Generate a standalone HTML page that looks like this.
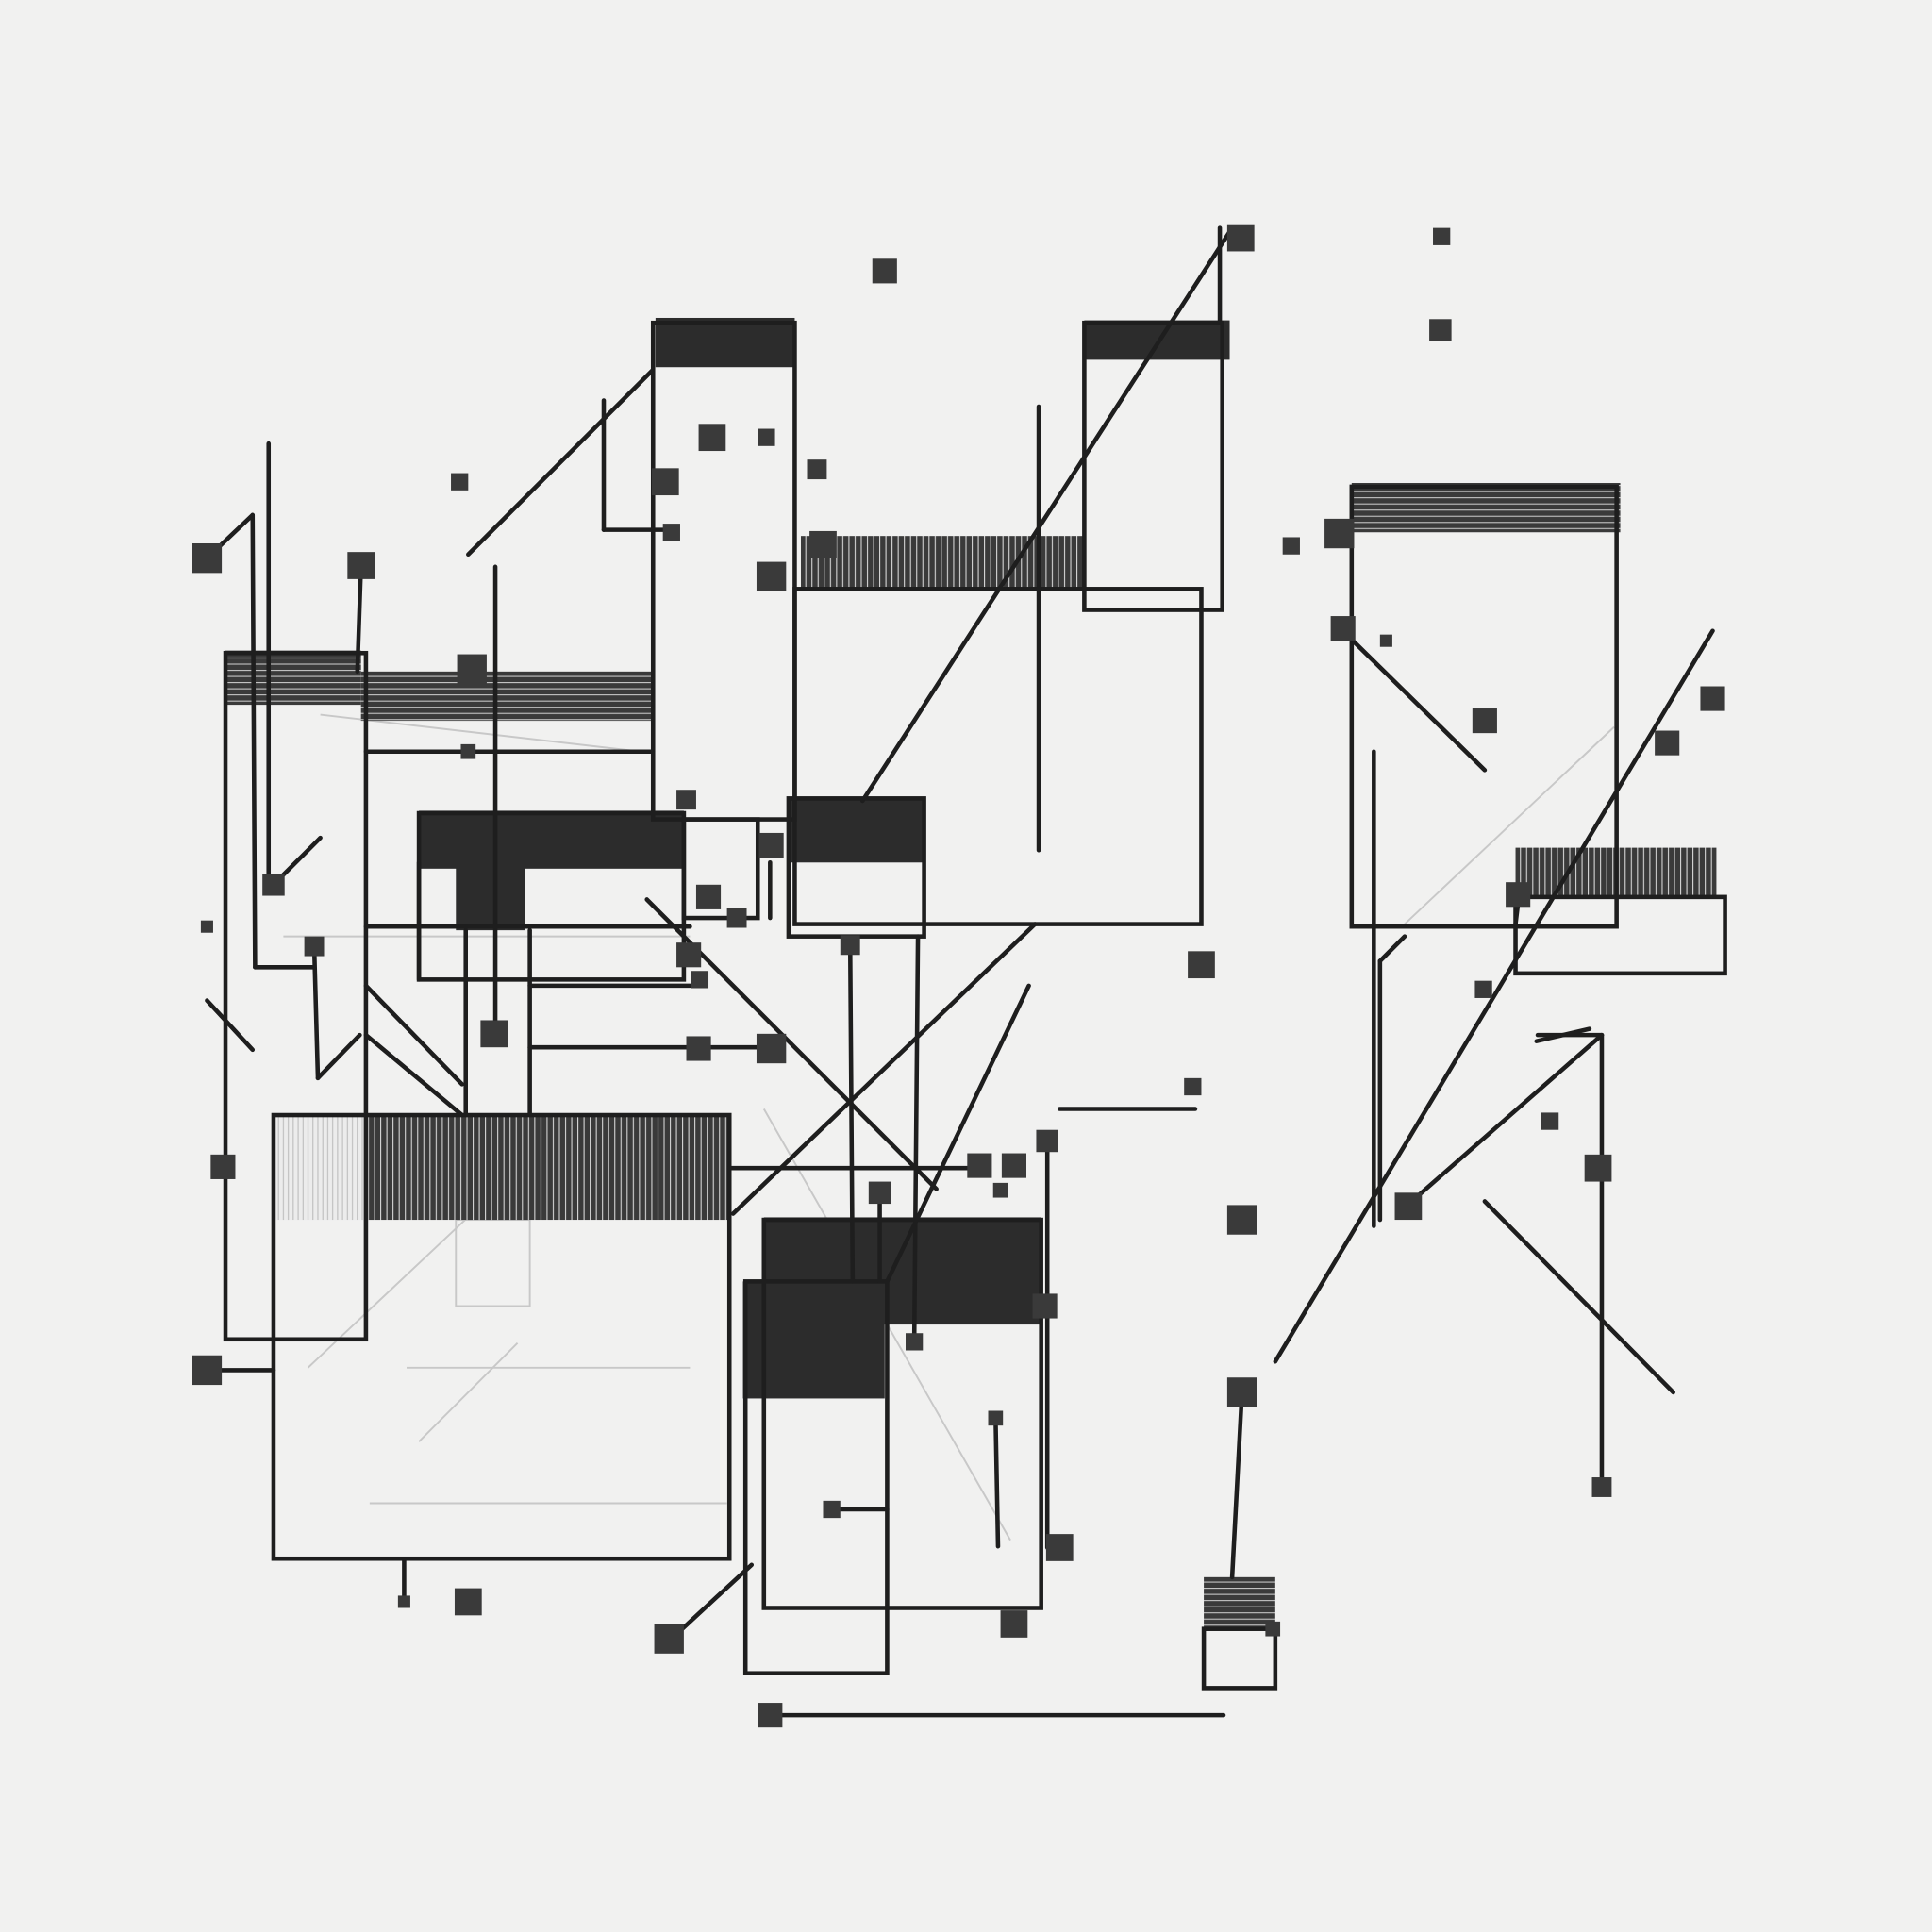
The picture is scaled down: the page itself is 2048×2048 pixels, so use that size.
<!DOCTYPE html>
<html><head><meta charset="utf-8"><style>
html,body{margin:0;padding:0;background:#f1f1f0;}
svg{display:block;}
</style></head><body>
<svg width="2048" height="2048" viewBox="0 0 1568 1568" xmlns="http://www.w3.org/2000/svg">
<defs>
<pattern id="vh" width="5" height="10" patternUnits="userSpaceOnUse"><rect width="5" height="10" fill="#3a3a3a"/><line x1="4" y1="0" x2="4" y2="10" stroke="#ddd" stroke-width="0.8"/></pattern>
<pattern id="hh" width="10" height="5" patternUnits="userSpaceOnUse"><rect width="10" height="5" fill="#3a3a3a"/><line x1="0" y1="4" x2="10" y2="4" stroke="#ccc" stroke-width="0.8"/></pattern>
<pattern id="lh" width="4" height="10" patternUnits="userSpaceOnUse"><rect width="4" height="10" fill="#ececec"/><line x1="2" y1="0" x2="2" y2="10" stroke="#bbb" stroke-width="0.8"/></pattern>
</defs>
<rect width="1568" height="1568" fill="#f1f1f0"/>
<!-- faint lines -->
<g stroke="#c8c8c8" stroke-width="1.5" fill="none">
<line x1="250" y1="1110" x2="420" y2="950"/><line x1="300" y1="1220" x2="590" y2="1220"/>
<line x1="230" y1="760" x2="560" y2="760"/><line x1="1140" y1="750" x2="1310" y2="590"/>
<rect x="370" y="990" width="60" height="70"/><line x1="330" y1="1110" x2="560" y2="1110"/>
<line x1="340" y1="1170" x2="420" y2="1090"/><line x1="260" y1="580" x2="520" y2="610"/>
<line x1="620" y1="900" x2="820" y2="1250"/>
</g>
<g fill="#2c2c2c">
<!-- caps -->
<rect x="532" y="258" width="113" height="40"/>
<rect x="880" y="260" width="118" height="32"/>
<rect x="340" y="658" width="215" height="47"/>
<rect x="370" y="700" width="56" height="55"/>
<rect x="640" y="648" width="110" height="52"/>
<rect x="620" y="988" width="225" height="87"/>
<rect x="603" y="1040" width="115" height="95"/>
</g>
<rect x="183" y="528" width="110" height="44" fill="url(#hh)"/>
<rect x="293" y="545" width="237" height="40" fill="url(#hh)"/>
<rect x="650" y="435" width="230" height="43" fill="url(#vh)"/>
<rect x="297" y="905" width="295" height="85" fill="url(#vh)"/>
<rect x="222" y="905" width="75" height="85" fill="url(#lh)"/>
<rect x="1097" y="392" width="218" height="40" fill="url(#hh)"/>
<rect x="1230" y="688" width="163" height="40" fill="url(#vh)"/>
<rect x="977" y="1280" width="58" height="42" fill="url(#hh)"/>
<g stroke="#1e1e1e" stroke-width="3.5" fill="none" stroke-linecap="round">
<rect x="183" y="530" width="114" height="557"/>
<rect x="530" y="262" width="115" height="403"/>
<rect x="880" y="262" width="112" height="233"/>
<rect x="645" y="478" width="330" height="272"/>
<rect x="340" y="660" width="215" height="135"/>
<rect x="555" y="665" width="60" height="80"/>
<rect x="640" y="648" width="110" height="112"/>
<rect x="222" y="905" width="370" height="360"/>
<rect x="605" y="1040" width="115" height="318"/>
<rect x="620" y="990" width="225" height="315"/>
<rect x="1097" y="395" width="215" height="357"/>
<rect x="1230" y="728" width="170" height="62"/>
<rect x="977" y="1322" width="58" height="48"/>
<line x1="380" y1="450" x2="530" y2="300"/>
<line x1="700" y1="650" x2="1000" y2="185"/><line x1="990" y1="185" x2="990" y2="260"/>
<line x1="595" y1="985" x2="840" y2="750"/><line x1="720" y1="1040" x2="835" y2="800"/>
<line x1="1035" y1="1105" x2="1390" y2="512"/><line x1="1205" y1="975" x2="1358" y2="1130"/>
<line x1="1098" y1="520" x2="1205" y2="625"/><line x1="525" y1="730" x2="760" y2="965"/>
<line x1="545" y1="1330" x2="610" y2="1270"/><line x1="625" y1="1392" x2="993" y2="1392"/>
<line x1="860" y1="900" x2="970" y2="900"/><line x1="168" y1="1112" x2="222" y2="1112"/>
<line x1="720" y1="1225" x2="675" y2="1225"/><line x1="1300" y1="840" x2="1300" y2="1207"/>
<line x1="1248" y1="840" x2="1300" y2="840"/><line x1="1140" y1="760" x2="1120" y2="780"/>
<line x1="1120" y1="780" x2="1120" y2="990"/><line x1="1115" y1="610" x2="1115" y2="995"/>
<line x1="1008" y1="1130" x2="1000" y2="1280"/><line x1="808" y1="1150" x2="810" y2="1255"/>
<line x1="850" y1="926" x2="850" y2="1256"/><line x1="843" y1="330" x2="843" y2="690"/>
<line x1="218" y1="360" x2="218" y2="720"/><line x1="168" y1="453" x2="205" y2="418"/><line x1="205" y1="418" x2="207" y2="785"/>
<line x1="207" y1="785" x2="255" y2="785"/><line x1="222" y1="718" x2="260" y2="680"/>
<line x1="255" y1="768" x2="258" y2="875"/><line x1="258" y1="875" x2="292" y2="840"/>
<line x1="168" y1="812" x2="205" y2="852"/><line x1="297" y1="840" x2="375" y2="905"/>
<line x1="297" y1="800" x2="375" y2="880"/>
<line x1="402" y1="460" x2="402" y2="838"/><line x1="293" y1="459" x2="290" y2="545"/>
<line x1="490" y1="325" x2="490" y2="430"/><line x1="490" y1="430" x2="545" y2="430"/>
<line x1="297" y1="610" x2="530" y2="610"/><line x1="430" y1="755" x2="430" y2="905"/>
<line x1="378" y1="755" x2="378" y2="905"/><line x1="430" y1="800" x2="560" y2="800"/>
<line x1="430" y1="850" x2="620" y2="850"/><line x1="297" y1="752" x2="560" y2="752"/>
<line x1="340" y1="700" x2="340" y2="795"/><line x1="592" y1="948" x2="795" y2="948"/>
<line x1="690" y1="767" x2="692" y2="1040"/><line x1="745" y1="760" x2="742" y2="1090"/>
<line x1="714" y1="968" x2="714" y2="1040"/><line x1="625" y1="700" x2="625" y2="745"/>
<line x1="328" y1="1265" x2="328" y2="1300"/><line x1="1233" y1="725" x2="1230" y2="750"/>
<line x1="1247" y1="845" x2="1290" y2="835"/><line x1="1140" y1="980" x2="1300" y2="840"/>
</g>
<g fill="#3a3a3a">
<rect x="708" y="210" width="20" height="20"/><rect x="996" y="182" width="22" height="22"/>
<rect x="1163" y="185" width="14" height="14"/><rect x="1160" y="259" width="18" height="18"/>
<rect x="156" y="441" width="24" height="24"/><rect x="282" y="448" width="22" height="22"/>
<rect x="366" y="384" width="14" height="14"/><rect x="567" y="344" width="22" height="22"/>
<rect x="615" y="348" width="14" height="14"/><rect x="655" y="373" width="16" height="16"/>
<rect x="529" y="380" width="22" height="22"/><rect x="538" y="425" width="14" height="14"/>
<rect x="614" y="456" width="24" height="24"/><rect x="657" y="431" width="22" height="22"/>
<rect x="1041" y="436" width="14" height="14"/><rect x="1075" y="421" width="24" height="24"/>
<rect x="1080" y="500" width="20" height="20"/><rect x="1120" y="515" width="10" height="10"/>
<rect x="1195" y="575" width="20" height="20"/><rect x="1380" y="557" width="20" height="20"/>
<rect x="1343" y="593" width="20" height="20"/><rect x="371" y="531" width="24" height="24"/>
<rect x="374" y="604" width="12" height="12"/><rect x="549" y="641" width="16" height="16"/>
<rect x="616" y="676" width="20" height="20"/><rect x="565" y="718" width="20" height="20"/>
<rect x="590" y="737" width="16" height="16"/><rect x="213" y="709" width="18" height="18"/>
<rect x="247" y="760" width="16" height="16"/><rect x="163" y="747" width="10" height="10"/>
<rect x="549" y="765" width="20" height="20"/><rect x="561" y="788" width="14" height="14"/>
<rect x="390" y="828" width="22" height="22"/><rect x="557" y="841" width="20" height="20"/>
<rect x="614" y="839" width="24" height="24"/><rect x="964" y="772" width="22" height="22"/>
<rect x="961" y="875" width="14" height="14"/><rect x="841" y="917" width="18" height="18"/>
<rect x="785" y="936" width="20" height="20"/><rect x="813" y="936" width="20" height="20"/>
<rect x="806" y="960" width="12" height="12"/><rect x="705" y="959" width="18" height="18"/>
<rect x="1197" y="796" width="14" height="14"/><rect x="1251" y="903" width="14" height="14"/>
<rect x="1286" y="937" width="22" height="22"/><rect x="1132" y="968" width="22" height="22"/>
<rect x="996" y="978" width="24" height="24"/><rect x="996" y="1118" width="24" height="24"/>
<rect x="1292" y="1199" width="16" height="16"/><rect x="156" y="1100" width="24" height="24"/>
<rect x="668" y="1218" width="14" height="14"/><rect x="849" y="1245" width="22" height="22"/>
<rect x="812" y="1307" width="22" height="22"/><rect x="369" y="1289" width="22" height="22"/>
<rect x="323" y="1295" width="10" height="10"/><rect x="531" y="1318" width="24" height="24"/>
<rect x="615" y="1382" width="20" height="20"/><rect x="1222" y="716" width="20" height="20"/>
<rect x="682" y="759" width="16" height="16"/><rect x="171" y="937" width="20" height="20"/>
<rect x="838" y="1050" width="20" height="20"/><rect x="735" y="1082" width="14" height="14"/>
<rect x="1027" y="1316" width="12" height="12"/><rect x="802" y="1145" width="12" height="12"/>
</g>
</svg>
</body></html>
